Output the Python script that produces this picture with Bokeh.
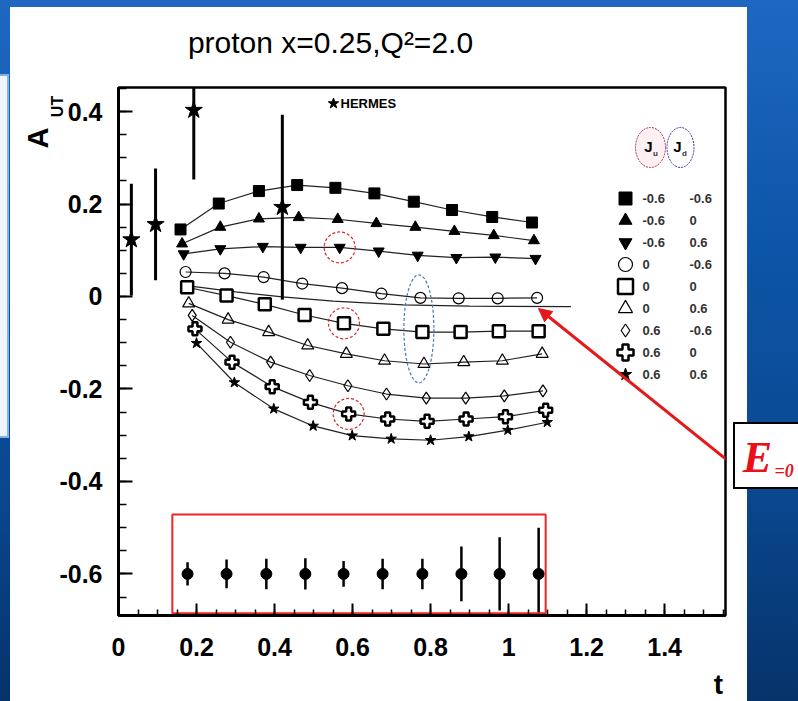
import math
from bokeh.plotting import figure
from bokeh.models import (Range1d, FixedTicker, CustomJSTickFormatter, Label, Arrow,
                          NormalHead, ColumnDataSource, Title)
from bokeh.core.properties import value
from bokeh.embed import file_html
from bokeh.resources import INLINE

# ---------------- data ----------------
# model curves: A_UT vs t for (J_u, J_d) pairs
t_fsq = [0.159, 0.257, 0.360, 0.458, 0.556, 0.656, 0.757, 0.855, 0.958, 1.060]
a_fsq = [0.145, 0.201, 0.228, 0.241, 0.235, 0.223, 0.205, 0.187, 0.172, 0.160]
t_ftu = [0.163, 0.261, 0.360, 0.462, 0.562, 0.661, 0.761, 0.861, 0.962, 1.065]
a_ftu = [0.114, 0.150, 0.168, 0.171, 0.167, 0.158, 0.150, 0.141, 0.132, 0.121]
t_ftd = [0.167, 0.261, 0.370, 0.467, 0.567, 0.667, 0.767, 0.866, 0.966, 1.069]
a_ftd = [0.092, 0.103, 0.108, 0.106, 0.106, 0.098, 0.089, 0.084, 0.085, 0.082]
t_oci = [0.172, 0.272, 0.372, 0.471, 0.573, 0.674, 0.774, 0.872, 0.972, 1.073]
a_oci = [0.053, 0.050, 0.042, 0.028, 0.018, 0.006, -0.003, -0.004, -0.004, -0.003]
t_osq = [0.176, 0.277, 0.375, 0.477, 0.578, 0.679, 0.779, 0.877, 0.975, 1.077]
a_osq = [0.020, 0.002, -0.017, -0.040, -0.058, -0.070, -0.077, -0.077, -0.075, -0.075]
t_otu = [0.180, 0.281, 0.385, 0.485, 0.584, 0.682, 0.783, 0.885, 0.984, 1.086]
a_otu = [-0.015, -0.050, -0.077, -0.106, -0.124, -0.139, -0.146, -0.142, -0.139, -0.124]
t_odi = [0.189, 0.287, 0.390, 0.490, 0.588, 0.687, 0.789, 0.890, 0.989, 1.088]
a_odi = [-0.041, -0.099, -0.142, -0.171, -0.193, -0.211, -0.220, -0.220, -0.215, -0.204]
t_plu = [0.196, 0.291, 0.394, 0.492, 0.590, 0.690, 0.791, 0.891, 0.992, 1.095]
a_plu = [-0.070, -0.142, -0.195, -0.229, -0.254, -0.265, -0.270, -0.265, -0.260, -0.246]
t_sta = [0.200, 0.297, 0.398, 0.499, 0.599, 0.699, 0.800, 0.898, 0.998, 1.099]
a_sta = [-0.101, -0.186, -0.243, -0.280, -0.301, -0.308, -0.311, -0.303, -0.289, -0.272]

# E = 0 curve
t_e0 = [0.16, 0.30, 0.42, 0.55, 0.73, 0.90, 1.16]
a_e0 = [0.025, 0.010, -0.001, -0.010, -0.018, -0.021, -0.022]

# HERMES data
t_her = [0.033, 0.095, 0.193, 0.420]
a_her = [0.123, 0.156, 0.403, 0.193]
e_her = [0.121, 0.121, 0.150, 0.200]

# projected errors (at -0.6)
t_prj = [0.177, 0.277, 0.379, 0.479, 0.577, 0.677, 0.779, 0.879, 0.977, 1.077]
a_prj = [-0.6] * 10
e_prj = [0.025, 0.031, 0.033, 0.034, 0.028, 0.033, 0.033, 0.059, 0.079, 0.100]

# legend values
ju_vals = ["-0.6", "-0.6", "-0.6", "0", "0", "0", "0.6", "0.6", "0.6"]
jd_vals = ["-0.6", "0", "0.6", "-0.6", "0", "0.6", "-0.6", "0", "0.6"]

x_ticks = [0, 0.2, 0.4, 0.6, 0.8, 1.0, 1.2, 1.4]
y_ticks = [-0.6, -0.4, -0.2, 0, 0.2, 0.4]

# ---------------- frame geometry ----------------
W, H = 798, 701
FL, FR, FT, FB = 118, 725, 87, 615
X0, X1 = 0.0, 1.556
Y0, Y1 = -0.69, 0.452
FONT = "Liberation Sans"


def dx(px):
    return X0 + (px - FL) / (FR - FL) * (X1 - X0)


def dy(py):
    return Y1 - (py - FT) / (FB - FT) * (Y1 - Y0)


bg = ", ".join([
    "linear-gradient(#ffffff,#ffffff) 735px 424px / 70px 63px no-repeat",
    "linear-gradient(#000000,#000000) 733px 422px / 74px 67px no-repeat",
    "linear-gradient(#eef5fc,#eef5fc) 0px 76px / 7px 360px no-repeat",
    "linear-gradient(#7fb2e6,#7fb2e6) 0px 74px / 9px 364px no-repeat",
    "linear-gradient(#ffffff,#ffffff) 10px 7px / 737px 700px no-repeat",
    "linear-gradient(180deg, #1f68c2 0%, #0d55a8 35%, #0a478f 70%, #06336a 100%)",
])

p = figure(width=W, height=H, x_range=Range1d(X0, X1), y_range=Range1d(Y0, Y1),
           toolbar_location=None, output_backend="svg",
           min_border_left=FL, min_border_right=W - FR,
           min_border_top=FT, min_border_bottom=H - FB,
           border_fill_color=None, background_fill_color="white",
           styles={"background": bg})
p.grid.visible = False
p.outline_line_color = "black"
p.outline_line_width = 2.5

fmt = CustomJSTickFormatter(code="return Number(tick.toFixed(2)).toString();")
p.xaxis.ticker = FixedTicker(ticks=x_ticks,
                             minor_ticks=[round(0.05 * i, 3) for i in range(0, 32)])
p.yaxis.ticker = FixedTicker(ticks=y_ticks,
                             minor_ticks=[round(-0.65 + 0.05 * i, 3) for i in range(0, 23)])
for ax in (p.xaxis[0], p.yaxis[0]):
    ax.formatter = fmt
    ax.major_tick_out = 0
    ax.minor_tick_out = 0
    ax.major_tick_line_width = 2
    ax.minor_tick_line_width = 1.5
    ax.axis_line_width = 3
    ax.major_label_text_font = FONT
    ax.major_label_text_font_style = "bold"
    ax.major_label_text_font_size = "25px"
    ax.major_label_text_color = "black"
p.xaxis.major_tick_in = 12
p.xaxis.minor_tick_in = 6
p.yaxis.major_tick_in = 14
p.yaxis.minor_tick_in = 8
p.xaxis.major_label_standoff = 22
p.yaxis.major_label_standoff = 16

# ---------------- curves ----------------
series = [
    (t_fsq, a_fsq, "square", 11, "black", 1),
    (t_ftu, a_ftu, "triangle", 11, "black", 1),
    (t_ftd, a_ftd, "inverted_triangle", 11, "black", 1),
    (t_oci, a_oci, "circle", 11, None, 1.2),
    (t_osq, a_osq, "square", 12, "white", 2.5),
    (t_otu, a_otu, "triangle", 12, None, 1.2),
    (t_odi, a_odi, "diamond", 12, None, 1.2),
    (t_plu, a_plu, "plus", 13, "white", 2.5),
    (t_sta, a_sta, "star", 11, "black", 1),
]

p.line(t_e0, a_e0, line_color="#222222", line_width=1.3)
for t, a, mk, sz, fc, lw in series:
    p.line(t, a, line_color="#222222", line_width=1.2)
for t, a, mk, sz, fc, lw in series:
    p.scatter(t, a, marker=mk, size=sz, fill_color=fc, line_color="black", line_width=lw)

# HERMES points
p.segment(t_her, [a - e for a, e in zip(a_her, e_her)],
          t_her, [a + e for a, e in zip(a_her, e_her)],
          line_color="black", line_width=3)
p.scatter(t_her, a_her, marker="star", size=18, fill_color="black", line_color="black")

# projected errors
p.segment(t_prj, [a - e for a, e in zip(a_prj, e_prj)],
          t_prj, [a + e for a, e in zip(a_prj, e_prj)],
          line_color="black", line_width=2.5)
p.scatter(t_prj, a_prj, marker="circle", size=11, fill_color="black", line_color="black")

# red box around projections
p.quad(left=[min(t_prj) - 0.039], right=[max(t_prj) + 0.018],
       bottom=[dy(612.7)], top=[dy(514)],
       fill_color=None, line_color="#f02424", line_width=2)

# highlight circles (red) on selected points
hl_t = [t_ftd[4], t_osq[4], t_plu[4]]
hl_a = [a_ftd[4], a_osq[4], a_plu[4]]
p.scatter(hl_t, hl_a, marker="circle", size=31, fill_color=None,
          line_color="#d42a2a", line_width=1.2, line_dash="3 2")

# blue ellipse around the t~0.77 column
p.ellipse(x=[t_osq[6] - 0.009], y=[-0.070], width=30, height=108,
          width_units="screen", height_units="screen",
          fill_color=None, line_color="#4a78b8", line_width=1.2, line_dash="3 2")

# ---------------- legend ----------------
leg_mk = [("square", 13, "black", 1), ("triangle", 13, "black", 1),
          ("inverted_triangle", 13, "black", 1), ("circle", 14, None, 1.2),
          ("square", 15, None, 2.5), ("triangle", 14, None, 1.2),
          ("diamond", 13, None, 1.2), ("plus", 16, "white", 2.5),
          ("star", 13, "black", 1)]
row_y = [dy(198 + 22 * i) for i in range(9)]
for (mk, sz, fc, lw), yy in zip(leg_mk, row_y):
    p.scatter([dx(625)], [yy], marker=mk, size=sz, fill_color=fc,
              line_color="black", line_width=lw)
leg_src = ColumnDataSource(dict(y=row_y, ju=ju_vals, jd=jd_vals,
                                x1=[dx(642)] * 9, x2=[dx(689)] * 9))
for col, xcol in (("ju", "x1"), ("jd", "x2")):
    p.text(x=xcol, y="y", text=col, source=leg_src, text_font=value(FONT),
           text_font_style="bold", text_font_size="13px", text_color="#333333",
           text_baseline="middle", text_align="left")

# J_u / J_d ellipses
p.ellipse(x=[dx(650)], y=[dy(147)], width=30, height=40, width_units="screen",
          height_units="screen", fill_color="#fdf0f2", line_color="#b03050",
          line_width=1, line_dash="2 1")
p.ellipse(x=[dx(680)], y=[dy(147)], width=27, height=40, width_units="screen",
          height_units="screen", fill_color=None, line_color="#3038a0",
          line_width=1, line_dash="2 1")
for cx, sub in ((648, "u"), (677, "d")):
    p.add_layout(Label(x=dx(cx), y=dy(146), text="J", text_font=FONT,
                       text_font_style="bold", text_font_size="15px", text_color="black",
                       text_align="center", text_baseline="middle"))
    p.add_layout(Label(x=dx(cx + 7), y=dy(153), text=sub, text_font=FONT,
                       text_font_style="bold", text_font_size="8px", text_color="#333333",
                       text_align="center", text_baseline="middle"))

# HERMES label
p.scatter([dx(333)], [dy(103)], marker="star", size=11, fill_color="black", line_color="black")
p.add_layout(Label(x=dx(340), y=dy(103), text="HERMES", text_font=FONT,
                   text_font_style="bold", text_font_size="13px", text_color="black",
                   text_align="left", text_baseline="middle"))

# red arrow to the E=0 curve
p.add_layout(Arrow(end=NormalHead(size=13, fill_color="#e41a1a", line_color="#e41a1a"),
                   x_start=dx(726), y_start=dy(459), x_end=dx(538), y_end=dy(308),
                   line_color="#e41a1a", line_width=3))

# ---------------- texts outside the frame (placed in side panels, so not clipped) ----------------
p.add_layout(Label(x=dx(330), y=dy(42), text="proton x=0.25,Q²=2.0",
                   text_font=FONT, text_font_size="30px",
                   text_color="black", text_align="center", text_baseline="middle"), "above")
p.add_layout(Label(x=dx(57), y=dy(106), text="UT", angle=math.pi / 2,
                   text_font=FONT, text_font_style="bold",
                   text_font_size="16px", text_color="black",
                   text_align="center", text_baseline="middle"), "above")
# y-axis symbol "A" as a vertical title on the left (reads bottom to top)
p.add_layout(Title(text="A", align="left", offset=FB - 148, standoff=6,
                   text_font=FONT, text_font_style="bold", text_font_size="29px",
                   text_color="black"), "left")
p.add_layout(Label(x=dx(718), y=dy(684), text="t",
                   text_font=FONT, text_font_style="bold",
                   text_font_size="28px", text_color="black",
                   text_align="center", text_baseline="middle"), "below")
p.add_layout(Label(x=dx(757), y=dy(457), text="E", text_font="Liberation Serif",
                   text_font_style="bold italic", text_font_size="44px",
                   text_color="#e8101a", text_align="center", text_baseline="middle"), "right")
p.add_layout(Label(x=dx(774), y=dy(470), text="=0", text_font="Liberation Serif",
                   text_font_style="bold italic", text_font_size="18px",
                   text_color="#e8101a", text_align="left", text_baseline="alphabetic"), "right")

open("out.html", "w").write(file_html(p, INLINE))
